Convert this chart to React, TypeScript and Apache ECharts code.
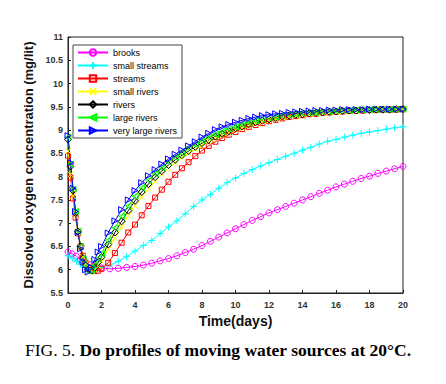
import React, { useEffect, useRef } from "react";
import * as echarts from "echarts";

// time grid of the two slow series (days)
const time = [0, 0.25, 0.5, 0.75, 1, 1.25, 1.5, 2, 2.5, 3, 3.5, 4, 4.5, 5, 5.5, 6, 6.5, 7, 7.5, 8, 8.5, 9, 9.5, 10, 10.5, 11, 11.5, 12, 12.5, 13, 13.5, 14, 14.5, 15, 15.5, 16, 16.5, 17, 17.5, 18, 18.5, 19, 19.5, 20];

// time grid of the five fast series (days)
const timeFast = [
  0, 0.15, 0.3, 0.45, 0.6, 0.75, 0.9, 1.05, 1.2, 1.4, 1.6, 1.8,
  2.0, 2.4, 2.8, 3.2, 3.6, 4.0, 4.4, 4.8, 5.2, 5.6,
  6.0, 6.4, 6.8, 7.2, 7.6, 8.0, 8.4, 8.8, 9.2, 9.6,
  10.0, 10.4, 10.8, 11.2, 11.6, 12.0, 12.4, 12.8, 13.2, 13.6,
  14.0, 14.4, 14.8, 15.2, 15.6, 16.0, 16.4, 16.8, 17.2, 17.6,
  18.0, 18.4, 18.8, 19.2, 19.6, 20.0,
];

const brooks = [6.38, 6.34, 6.29, 6.22, 6.16, 6.11, 6.07, 6.04, 6.02, 6.03, 6.05, 6.07, 6.1, 6.14, 6.19, 6.24, 6.3, 6.37, 6.44, 6.52, 6.61, 6.7, 6.79, 6.88, 6.97, 7.06, 7.14, 7.22, 7.29, 7.36, 7.43, 7.5, 7.57, 7.64, 7.71, 7.78, 7.84, 7.9, 7.96, 8.01, 8.07, 8.12, 8.17, 8.22];
const smallStreams = [6.3, 6.25, 6.18, 6.12, 6.07, 6.04, 6.03, 6.05, 6.1, 6.18, 6.28, 6.4, 6.52, 6.63, 6.78, 6.92, 7.05, 7.2, 7.36, 7.5, 7.62, 7.75, 7.87, 7.97, 8.07, 8.15, 8.23, 8.3, 8.37, 8.44, 8.5, 8.57, 8.63, 8.7, 8.76, 8.8, 8.85, 8.89, 8.93, 8.96, 8.99, 9.02, 9.05, 9.07];

const streams = [
  8.45, 7.98, 7.53, 7.12, 6.78, 6.5, 6.3, 6.15, 6.05, 5.99, 5.97, 5.98,
  6.02, 6.15, 6.36, 6.58, 6.8, 6.97, 7.17, 7.37, 7.55, 7.72,
  7.89, 8.04, 8.18, 8.31, 8.44, 8.56, 8.66, 8.75, 8.83, 8.9,
  8.96, 9.02, 9.07, 9.11, 9.15, 9.19, 9.22, 9.25, 9.28, 9.3,
  9.32, 9.34, 9.35, 9.37, 9.38, 9.39, 9.4, 9.41, 9.41, 9.42,
  9.43, 9.43, 9.44, 9.44, 9.44, 9.45,
];
const smallRivers = [
  8.55, 8.05, 7.58, 7.15, 6.8, 6.5, 6.27, 6.12, 6.03, 5.98, 6.0, 6.08,
  6.18, 6.43, 6.68, 6.92, 7.16, 7.37, 7.56, 7.74, 7.9, 8.05,
  8.18, 8.3, 8.41, 8.5, 8.59, 8.67, 8.75, 8.82, 8.88, 8.94,
  9.0, 9.05, 9.1, 9.14, 9.18, 9.21, 9.24, 9.27, 9.29, 9.31,
  9.33, 9.35, 9.36, 9.37, 9.38, 9.39, 9.4, 9.41, 9.41, 9.42,
  9.43, 9.43, 9.44, 9.44, 9.44, 9.45,
];
const rivers = [
  8.8, 8.22, 7.7, 7.22, 6.82, 6.5, 6.25, 6.09, 6.0, 5.98, 6.04, 6.16,
  6.27, 6.54, 6.8, 7.04, 7.27, 7.48, 7.67, 7.84, 7.99, 8.12,
  8.25, 8.36, 8.46, 8.55, 8.64, 8.72, 8.79, 8.86, 8.92, 8.98,
  9.04, 9.08, 9.13, 9.17, 9.2, 9.23, 9.26, 9.29, 9.31, 9.33,
  9.34, 9.36, 9.37, 9.38, 9.39, 9.4, 9.41, 9.42, 9.42, 9.43,
  9.43, 9.44, 9.44, 9.44, 9.45, 9.45,
];
const largeRivers = [
  8.85, 8.27, 7.73, 7.25, 6.83, 6.5, 6.23, 6.06, 5.97, 5.99, 6.1, 6.24,
  6.35, 6.63, 6.9, 7.15, 7.37, 7.58, 7.76, 7.92, 8.06, 8.19,
  8.31, 8.41, 8.51, 8.61, 8.69, 8.77, 8.84, 8.91, 8.97, 9.02,
  9.07, 9.12, 9.16, 9.2, 9.23, 9.26, 9.28, 9.31, 9.33, 9.34,
  9.36, 9.37, 9.38, 9.39, 9.4, 9.41, 9.42, 9.42, 9.43, 9.43,
  9.44, 9.44, 9.44, 9.44, 9.45, 9.45,
];
const veryLargeRivers = [
  8.88, 8.3, 7.75, 7.25, 6.8, 6.45, 6.17, 6.0, 5.95, 6.05, 6.22, 6.38,
  6.5, 6.79, 7.05, 7.29, 7.5, 7.7, 7.87, 8.02, 8.15, 8.27,
  8.38, 8.48, 8.57, 8.66, 8.75, 8.85, 8.93, 9.01, 9.07, 9.12,
  9.17, 9.21, 9.25, 9.28, 9.31, 9.33, 9.35, 9.36, 9.38, 9.39,
  9.4, 9.41, 9.42, 9.42, 9.43, 9.43, 9.44, 9.44, 9.44, 9.44,
  9.45, 9.45, 9.45, 9.45, 9.45, 9.45,
];

const seriesNames = ["brooks", "small streams", "streams", "small rivers", "rivers", "large rivers", "very large rivers"];
const seriesValues = [brooks, smallStreams, streams, smallRivers, rivers, largeRivers, veryLargeRivers];
const seriesTimes = [time, time, timeFast, timeFast, timeFast, timeFast, timeFast];
const seriesColors = ["#ff00ff", "#00ffff", "#ff0000", "#ffff00", "#000000", "#00ff00", "#0000ff"];
const seriesSymbols = [
  "circle",
  "path://M5,0L5,10M0,5L10,5",
  "rect",
  "path://M0,0L10,10M0,10L10,0",
  "diamond",
  "triangle",
  "triangle",
];
const seriesRotate = [0, 0, 0, 0, 0, 90, -90];
const seriesSizes = [6, 7, 5, 6, 7, 6, 6];

const yTicks = { min: 5.5, max: 11, interval: 0.5 };
const xTicks = { min: 0, max: 20, interval: 2 };

const sans = "Arial, Liberation Sans, sans-serif";
const serif = "Liberation Serif, Times New Roman, serif";

export default function App() {
  const ref = useRef<HTMLDivElement>(null);
  useEffect(() => {
    if (!ref.current) return;
    const chart = echarts.init(ref.current, undefined, { renderer: "svg" });
    const series = seriesNames.map((name, k) => ({
      name,
      type: "line",
      data: seriesTimes[k].map((t, i) => [t, seriesValues[k][i]]),
      symbol: seriesSymbols[k],
      symbolSize: seriesSizes[k],
      symbolRotate: seriesRotate[k],
      showAllSymbol: true,
      color: seriesColors[k],
      lineStyle: { color: seriesColors[k], width: 1 },
      itemStyle: { color: "rgba(255,255,255,0)", borderColor: seriesColors[k], borderWidth: 1 },
      emphasis: { disabled: true },
    }));
    chart.setOption({
      animation: false,
      grid: { left: 68, right: 43, top: 37, bottom: 91, show: true, borderColor: "#222", borderWidth: 1, backgroundColor: "#fff" },
      legend: {
        orient: "vertical",
        left: 73,
        top: 45,
        padding: [3, 5, 3, 4],
        itemGap: 4,
        itemWidth: 30,
        itemHeight: 8,
        backgroundColor: "#fff",
        borderColor: "#444",
        borderWidth: 1,
        textStyle: { fontSize: 9, fontFamily: sans, color: "#000" },
        data: seriesNames,
      },
      xAxis: {
        type: "value",
        min: xTicks.min,
        max: xTicks.max,
        interval: xTicks.interval,
        name: "Time(days)",
        nameLocation: "middle",
        nameGap: 21,
        nameTextStyle: { fontSize: 14, fontWeight: "bold", fontFamily: sans, color: "#111" },
        axisLine: { show: true, lineStyle: { color: "#222" } },
        axisTick: { inside: true, length: 3, lineStyle: { color: "#222" } },
        axisLabel: { fontSize: 9, fontWeight: "bold", color: "#333", margin: 7, fontFamily: sans },
        splitLine: { show: false },
      },
      yAxis: {
        type: "value",
        min: yTicks.min,
        max: yTicks.max,
        interval: yTicks.interval,
        name: "Dissolved oxygen concentration (mg/lit)",
        nameLocation: "middle",
        nameGap: 29,
        nameTextStyle: { fontSize: 13, fontWeight: "bold", fontFamily: sans, color: "#111" },
        axisLine: { show: true, lineStyle: { color: "#222" } },
        axisTick: { inside: true, length: 3, lineStyle: { color: "#222" } },
        axisLabel: { fontSize: 9, fontWeight: "bold", color: "#333", margin: 5, fontFamily: sans },
        splitLine: { show: false },
      },
      graphic: [
        {
          type: "text",
          left: 25,
          top: 341,
          style: {
            text: "{a|FIG. 5. }{b|Do profiles of moving water sources at 20°C.}",
            rich: {
              a: { fontSize: 17.5, fontFamily: serif, fill: "#000" },
              b: { fontSize: 17.5, fontWeight: "bold", fontFamily: serif, fill: "#000" },
            },
          },
        },
      ],
      series,
    });
    return () => chart.dispose();
  }, []);
  return <div ref={ref} style={{ width: 446, height: 384, position: "absolute", left: 0, top: 0 }} />;
}
